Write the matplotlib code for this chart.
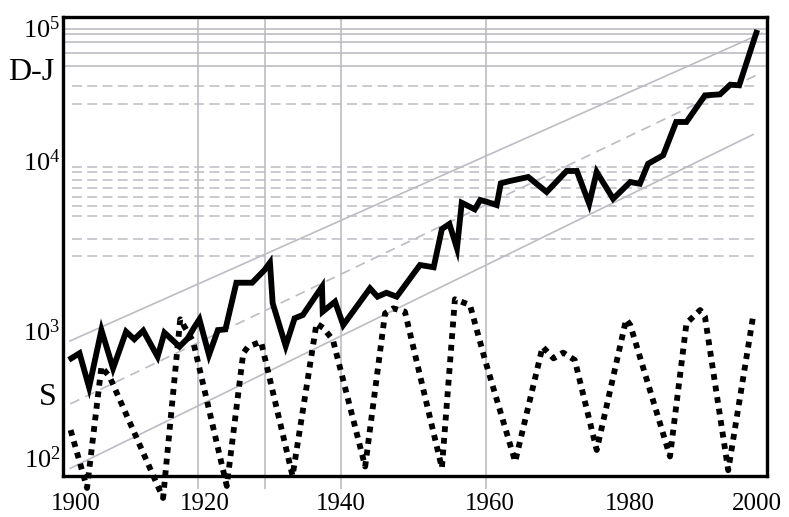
import matplotlib.pyplot as plt

plt.rcParams["font.family"] = ["Liberation Serif", "DejaVu Serif"]
plt.rcParams["mathtext.fontset"] = "custom"
plt.rcParams["mathtext.rm"] = "Liberation Serif"
plt.rcParams["mathtext.it"] = "Liberation Serif:italic"
plt.rcParams["mathtext.bf"] = "Liberation Serif:bold"

# Dow-Jones curve (solid)
dj_years = [1899.9, 1901.1, 1902.5, 1904.3, 1906.0, 1907.9, 1909.1, 1910.4, 1912.5,
            1913.5, 1915.7, 1916.9, 1917.9, 1918.6, 1920.0, 1921.3, 1922.4, 1924.0,
            1926.3, 1928.1, 1928.9, 1929.3, 1931.2, 1932.5, 1933.7, 1936.5, 1936.6,
            1938.4, 1939.6, 1943.5, 1944.6, 1945.9, 1947.4, 1950.8, 1952.8, 1954.0,
            1955.1, 1956.2, 1956.9, 1958.8, 1959.6, 1960.5, 1962.0, 1962.6, 1963.9,
            1966.6, 1969.3, 1972.2, 1973.7, 1975.5, 1976.6, 1979.0, 1981.5, 1982.9,
            1984.1, 1986.3, 1988.2, 1989.7, 1992.4, 1994.6, 1996.1, 1997.4, 1999.9]
dj_values = [485, 526, 305, 762, 413, 743, 658, 755, 498,
             731, 585, 668, 804, 905, 512, 762, 771, 1625,
             1625, 1990, 2240, 1170, 591, 920, 970, 1524, 1023,
             1200, 826, 1486, 1300, 1384, 1300, 2158, 2080, 3837,
             4159, 2818, 5834, 5254, 6100, 5935, 5625, 7960, 8260,
             8810, 6930, 9700, 9700, 5740, 9550, 6220, 8130, 7910,
             10890, 12470, 21240, 21240, 32500, 33040, 38550, 38170, 88500]

# sunspot curve (dotted)
ss_years = [1899.8, 1902.2, 1904.3, 1905.5, 1913.3, 1915.8, 1917.7, 1922.6, 1925.0,
            1925.7, 1927.6, 1932.2, 1935.7, 1936.7, 1938.1, 1942.8, 1945.7, 1946.9,
            1948.6, 1954.0, 1955.9, 1958.1, 1960.3, 1964.7, 1968.7, 1970.3, 1971.7,
            1973.4, 1976.6, 1980.9, 1981.5, 1987.3, 1989.7, 1991.7, 1992.4, 1995.8,
            1999.5]
ss_values = [154, 61, 425, 361, 52, 905, 633, 63, 526,
             584, 633, 74, 849, 787, 650, 86, 995, 1079,
             1023, 84, 1247, 1138, 472, 93, 584, 485, 531,
             472, 112, 905, 826, 101, 849, 1050, 944, 81,
             995]

# trend channel (start/end points)
upper_x, upper_y = [1899.7, 2000.7], [640, 87700]
mid_x, mid_y = [1899.75, 2000.45], [234, 46200]
lower_x, lower_y = [1899.75, 1999.45], [83.5, 17400]

# reference levels and grid as drawn
solid_levels = [93900, 86700, 76300, 64300, 52100]
dashed_levels = [37700, 28500, 10300, 9540, 8460, 7390, 6400, 5580, 4720, 3270, 2490]
grid_years = [1918.4, 1928.2, 1939.2, 1960.5, 1981.5]

x_labels = ["1900", "1920", "1940", "1960", "1980", "2000"]
x_label_pos = [1900.5, 1919.4, 1939.3, 1961.0, 1981.5, 2000.0]
y_labels = [r"$10^2$", r"$10^3$", r"$10^4$", r"$10^5$"]
y_label_pos = [100, 760, 11500, 97000]

gray = "#bcbcc4"

fig = plt.figure(figsize=(7.89, 5.17), dpi=100)
fig.subplots_adjust(left=63 / 789, right=767 / 789, bottom=1 - 476 / 517, top=1 - 17 / 517)
ax = fig.add_subplot()

ax.set_yscale("log")
ax.set_xlim(1898.69, 2001.46)
ax.set_ylim(73.9, 113800)

for lv in solid_levels:
    ax.axhline(lv, color=gray, lw=1.2, zorder=1)
ax.hlines(dashed_levels, 1900, 2000, color=gray, lw=1.1, linestyles=(0, (6.5, 3.5)), zorder=1)

ax.plot(upper_x, upper_y, color=gray, lw=1.2, zorder=1)
ax.plot(lower_x, lower_y, color=gray, lw=1.2, zorder=1)
ax.plot(mid_x, mid_y, color=gray, lw=1.2, linestyle=(0, (6, 4)), zorder=1)

ax.plot(ss_years, ss_values, color="black", lw=4.2, linestyle=(0, (1, 1)),
        dash_capstyle="butt", clip_on=False, zorder=3)
ax.plot(dj_years, dj_values, color="black", lw=4.2, solid_joinstyle="miter", zorder=4)

ax.set_xticks(x_label_pos, x_labels)
ax.set_xticks(grid_years, minor=True)
ax.grid(True, which="minor", axis="x", color=gray, lw=1.2, zorder=1)
ax.tick_params(axis="x", which="major", length=0, pad=12, labelsize=18)
ax.tick_params(axis="x", which="minor", length=9, width=1.2, color=gray, direction="out")

ax.yaxis.set_minor_locator(plt.NullLocator())
ax.set_yticks(y_label_pos, y_labels)
ax.tick_params(axis="y", length=0, pad=2, labelsize=19)

for sp in ax.spines.values():
    sp.set_linewidth(2.4)
    sp.set_zorder(5)

ax.text(-0.045, 0.88, "D-J", transform=ax.transAxes, ha="center", va="center", fontsize=23)
ax.text(-0.022, 0.172, "S", transform=ax.transAxes, ha="center", va="center", fontsize=23)

fig.savefig("out.png", dpi=100)
plt.close(fig)
